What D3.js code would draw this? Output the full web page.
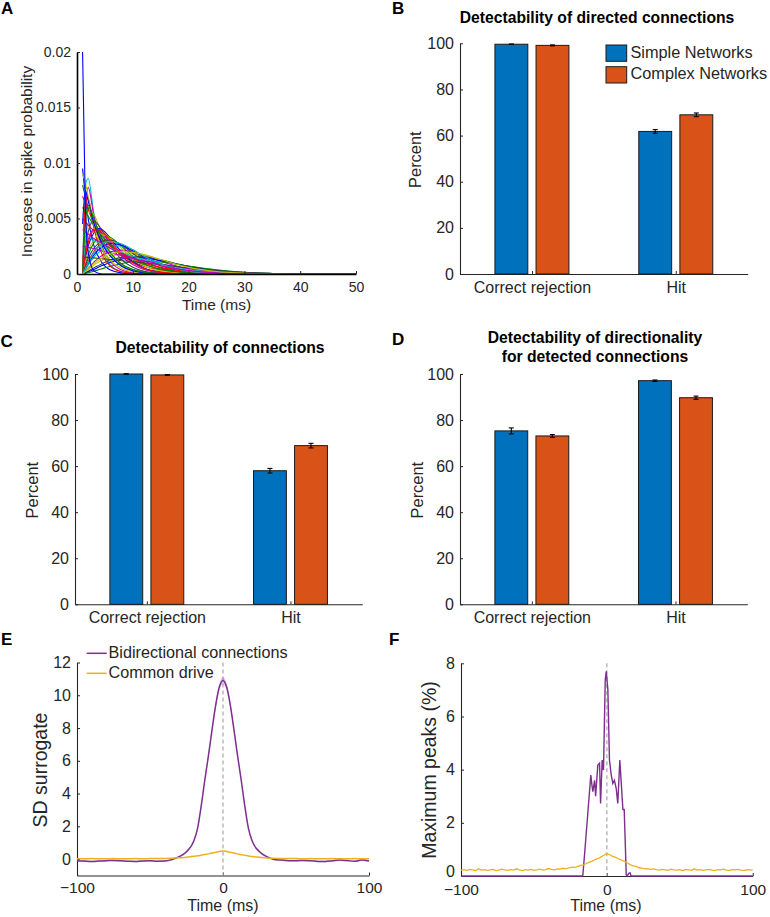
<!DOCTYPE html>
<html><head><meta charset="utf-8">
<script src="https://cdn.jsdelivr.net/npm/d3@7"></script>
<style>
body{margin:0;background:#fff}
svg text{font-family:"Liberation Sans",Arial,Helvetica,sans-serif}
</style>
</head><body>
<svg id="fig" width="770" height="917"></svg>
<script>
// ---------------- DATA ----------------
// Panel A: kernels (values in units of 1e-3), sampled at aTime (ms)
const aTime = [1, 1.5, 2, 3, 4, 5, 6, 8, 10, 12, 15, 20, 25, 30, 35, 40, 50];
const aUnit = 1e-3;
const aCurves = [
  [9.5, 7, 5, 2.6, 1.4, 0.7, 0.35, 0.1, 0.02, 0, 0, 0, 0, 0, 0, 0, 0],
  [8, 7, 6, 4.4, 3.2, 2.3, 1.6, 0.8, 0.4, 0.2, 0.05, 0, 0, 0, 0, 0, 0],
  [7, 6.4, 5.8, 4.8, 3.9, 3.2, 2.6, 1.7, 1.1, 0.7, 0.35, 0.1, 0.02, 0, 0, 0, 0],
  [0, 8, 8.6, 5.5, 3, 1.6, 0.8, 0.2, 0.05, 0, 0, 0, 0, 0, 0, 0, 0],
  [0, 5.5, 7.8, 5.3, 3.2, 1.9, 1.1, 0.35, 0.1, 0.03, 0, 0, 0, 0, 0, 0, 0],
  [0, 3.5, 5.6, 5.4, 4.2, 3, 2, 0.85, 0.35, 0.13, 0.03, 0, 0, 0, 0, 0, 0],
  [0, 2.2, 3.8, 4.8, 4.3, 3.5, 2.6, 1.3, 0.6, 0.25, 0.07, 0.01, 0, 0, 0, 0, 0],
  [0, 1.4, 2.5, 3.7, 4.1, 3.8, 3.2, 2, 1.1, 0.55, 0.2, 0.03, 0, 0, 0, 0, 0],
  [0, 0.9, 1.7, 2.8, 3.3, 3.5, 3.3, 2.5, 1.6, 0.95, 0.4, 0.08, 0.01, 0, 0, 0, 0],
  [0, 0.6, 1.1, 2, 2.6, 2.9, 3, 2.6, 2, 1.4, 0.75, 0.2, 0.04, 0, 0, 0, 0],
  [0, 0.4, 0.8, 1.5, 2, 2.4, 2.55, 2.5, 1.95, 1.6, 0.95, 0.3, 0.08, 0.02, 0, 0, 0],
  [0, 0.3, 0.55, 1.05, 1.5, 1.8, 2, 2.15, 1.95, 1.7, 1.15, 0.45, 0.15, 0.04, 0.01, 0, 0],
  [0, 0.2, 0.4, 0.8, 1.1, 1.35, 1.55, 1.75, 1.8, 1.7, 1.3, 0.65, 0.25, 0.08, 0.02, 0, 0],
  [0, 0.12, 0.25, 0.55, 0.8, 1.05, 1.25, 1.5, 1.6, 1.55, 1.25, 0.7, 0.32, 0.12, 0.04, 0.01, 0],
  [0, 0.1, 0.2, 0.4, 0.65, 0.85, 1.05, 1.35, 1.5, 1.45, 1.2, 0.68, 0.33, 0.13, 0.05, 0.01, 0],
  [0, 0.06, 0.12, 0.25, 0.4, 0.55, 0.7, 0.95, 1.1, 1.15, 1.08, 0.72, 0.38, 0.15, 0.05, 0.01, 0],
  [0, 6.5, 6.8, 4.2, 2.4, 1.3, 0.7, 0.2, 0.05, 0, 0, 0, 0, 0, 0, 0, 0],
  [0, 2.8, 4.6, 4.6, 3.5, 2.5, 1.7, 0.7, 0.28, 0.1, 0.02, 0, 0, 0, 0, 0, 0],
  [0, 1.8, 3.1, 4, 3.9, 3.4, 2.8, 1.6, 0.85, 0.4, 0.12, 0.02, 0, 0, 0, 0, 0],
  [0, 1.1, 2, 3.1, 3.5, 3.5, 3.2, 2.3, 1.4, 0.75, 0.28, 0.04, 0, 0, 0, 0, 0],
  [0, 0.75, 1.4, 2.3, 2.8, 3.05, 3.05, 2.6, 1.85, 1.2, 0.55, 0.12, 0.02, 0, 0, 0, 0],
  [0, 0.5, 0.95, 1.7, 2.25, 2.6, 2.75, 2.6, 2.1, 1.55, 0.9, 0.28, 0.07, 0.01, 0, 0, 0],
  [6, 5.6, 5.2, 4.4, 3.7, 3.1, 2.6, 1.8, 1.25, 0.85, 0.45, 0.14, 0.04, 0.01, 0, 0, 0],
  [5, 4.7, 4.4, 3.9, 3.4, 2.9, 2.5, 1.9, 1.4, 1, 0.6, 0.22, 0.07, 0.02, 0, 0, 0],
  [3.5, 3.4, 3.3, 3, 2.8, 2.6, 2.35, 1.95, 1.6, 1.3, 0.9, 0.42, 0.18, 0.07, 0.02, 0, 0],
  [2.5, 2.45, 2.4, 2.3, 2.15, 2, 1.9, 1.65, 1.4, 1.2, 0.9, 0.5, 0.25, 0.1, 0.03, 0.01, 0],
  [9, 8.2, 7, 4.5, 2.9, 1.8, 1.2, 0.5, 0.2, 0.08, 0.02, 0, 0, 0, 0, 0, 0],
  [1.5, 1.5, 1.5, 1.45, 1.4, 1.35, 1.3, 1.2, 1.1, 1, 0.85, 0.55, 0.3, 0.12, 0.04, 0.01, 0],
  [4.5, 7.5, 6.6, 4.6, 3.3, 2.3, 1.6, 0.7, 0.3, 0.1, 0.02, 0, 0, 0, 0, 0, 0],
  [0, 4.5, 6.2, 5.0, 3.7, 2.7, 1.9, 0.9, 0.4, 0.16, 0.04, 0, 0, 0, 0, 0, 0],
  [0, 1.6, 2.8, 3.9, 4.0, 3.6, 3.0, 1.8, 1.0, 0.5, 0.16, 0.02, 0, 0, 0, 0, 0],
  [0, 0.5, 1.0, 1.9, 2.5, 2.85, 2.95, 2.7, 2.2, 1.6, 0.9, 0.25, 0.05, 0.01, 0, 0, 0],
  [4, 3.8, 3.6, 3.2, 2.9, 2.6, 2.3, 1.85, 1.45, 1.15, 0.75, 0.3, 0.1, 0.03, 0.01, 0, 0],
  [0, 0.25, 0.5, 0.95, 1.3, 1.6, 1.8, 2.0, 1.95, 1.75, 1.3, 0.6, 0.22, 0.07, 0.02, 0, 0],
  [20, 6, 2, 0.3, 0.05, 0, 0, 0, 0, 0, 0, 0, 0, 0, 0, 0, 0]
];
const aXTicks = [0, 10, 20, 30, 40, 50];
const aYTicks = [0, 0.005, 0.01, 0.015, 0.02];
const aYTickLabels = ["0", "0.005", "0.01", "0.015", "0.02"];

// Panels B, C, D: grouped bars
const barCategories = ["Correct rejection", "Hit"];
const seriesNames = ["Simple Networks", "Complex Networks"];
const bSimple = [99.6, 61.8], bSimpleErr = [0.1, 0.8];
const bComplex = [99.1, 69.0], bComplexErr = [0.2, 0.8];
const cSimple = [100, 58.0], cSimpleErr = [0.05, 1.0];
const cComplex = [99.6, 68.9], cComplexErr = [0.1, 1.0];
const dSimple = [75.3, 97.1], dSimpleErr = [1.3, 0.3];
const dComplex = [73.1, 89.7], dComplexErr = [0.6, 0.7];
const percentTicks = [0, 20, 40, 60, 80, 100];

// Panel E: SD surrogate vs time
const eTime = [-100,-95,-90,-85,-80,-75,-70,-65,-60,-55,-50,-45,-40,-35,-30,-25,-20,
  -17.5,-15,-12.5,-10,-7.5,-5,-2.5,0,2.5,5,7.5,10,12.5,15,17.5,
  20,25,30,35,40,45,50,55,60,65,70,75,80,85,90,95,100];
const eBidirectional = [-0.10,-0.12,-0.14,-0.12,-0.10,-0.08,-0.10,-0.13,-0.14,-0.11,-0.10,-0.13,-0.12,-0.03,0.15,0.45,1.1,
  1.85,3.2,4.8,6.3,7.9,9.4,10.5,10.9,10.5,9.4,7.9,6.3,4.8,3.2,1.85,
  1.1,0.45,0.15,-0.02,-0.06,-0.10,-0.10,-0.08,-0.10,-0.14,-0.15,-0.10,-0.06,-0.09,-0.13,-0.06,-0.12];
const eBidirectionalSem = [0.05,0.05,0.05,0.05,0.05,0.05,0.05,0.05,0.05,0.05,0.05,0.05,0.05,0.05,0.05,0.05,0.06,
  0.07,0.08,0.1,0.12,0.15,0.18,0.2,0.22,0.2,0.18,0.15,0.12,0.1,0.08,0.07,
  0.06,0.05,0.05,0.05,0.05,0.05,0.05,0.05,0.05,0.05,0.05,0.05,0.05,0.05,0.05,0.05,0.05];
const eCommonDrive = [0.02,0.02,0.03,0.02,0.02,0.03,0.02,0.02,0.03,0.02,0.03,0.03,0.04,0.06,0.08,0.12,0.17,
  0.2,0.24,0.28,0.32,0.37,0.42,0.47,0.5,0.47,0.42,0.37,0.32,0.27,0.23,0.19,
  0.16,0.11,0.07,0.05,0.04,0.03,0.03,0.02,0.03,0.02,0.02,0.03,0.02,0.02,0.03,0.02,0.02];
const eYTicks = [0, 2, 4, 6, 8, 10, 12];
const tXTicks = [-100, 0, 100];
const lineNames = ["Bidirectional connections", "Common drive"];

// Panel F: maximum peaks (%)
const fBidirTime = [-100,-16.5,-15,-13,-11,-10.2,-9.6,-8.4,-7.7,-6.2,-5,-4.3,-3.2,-2.3,-1.1,-0.4,0.7,1.8,3,4.1,5.2,6.4,7.5,8.9,10.1,11,11.9,13.3,14,15,16,16.6,100];
const fBidir = [0,0,1.0,2.4,3.8,3.4,3.17,3.6,3.0,4.17,4.24,2.73,4.36,3.98,7.37,7.7,7.0,4.36,3.8,3.48,3.6,3.3,2.73,4.36,3.3,2.5,2.5,0.05,0,0.1,0.12,0,0];
const fCommonTime = [-100,-98,-96,-94,-92,-90,-88,-86,-84,-82,-80,-78,-76,-74,-72,-70,-68,-66,-64,-62,-60,-58,-56,-54,-52,-50,-48,-46,-44,-42,-40,-38,-36,-34,
  -32,-30,-28,-26,-24,-22,-20,-18,-16,-14,-12,-10,-8,-6,-4,-2,0,2,4,6,8,10,12,14,16,18,20,22,24,26,28,30,32,
  34,36,38,40,42,44,46,48,50,52,54,56,58,60,62,64,66,68,70,72,74,76,78,80,82,84,86,88,90,92,94,96,98,100];
const fCommon = [0.22,0.24,0.21,0.25,0.23,0.20,0.27,0.22,0.24,0.21,
  0.23,0.25,0.20,0.22,0.26,0.23,0.21,0.24,0.22,0.27,
  0.23,0.20,0.24,0.22,0.25,0.21,0.23,0.26,0.22,0.24,
  0.28,0.25,0.23,0.27,
  0.26,0.29,0.27,0.31,0.33,0.32,0.36,0.40,0.42,0.47,0.52,0.56,0.62,0.66,0.72,0.78,
  0.85,
  0.80,0.74,0.70,0.65,0.60,0.55,0.50,0.43,0.38,0.36,0.31,0.30,0.27,0.28,0.25,0.27,
  0.24,0.22,0.25,0.23,0.21,0.26,0.23,0.22,0.24,0.20,
  0.25,0.23,0.21,0.27,0.22,0.24,0.21,0.23,0.25,0.22,
  0.20,0.24,0.23,0.26,0.22,0.21,0.24,0.23,0.25,0.22,
  0.20,0.24,0.23,0.22];
const fYTicks = [0, 2, 4, 6, 8];

// ---------------- STYLE ----------------
const FONT = '"Liberation Sans", Arial, Helvetica, sans-serif';
const INK = "#262626";
const BAR_COLORS = ["#0072BD", "#D95319"];
const PURPLE = "#7E2F8E", YELLOW = "#EDB120";
const KERNEL_COLORS = ["#0000ff", "#008000", "#ff0000", "#00bfbf", "#bf00bf", "#bfbf00", "#404040"];

const svg = d3.select("#fig");

function styleAxis(g, fs) {
  g.attr("font-family", FONT).attr("font-size", fs);
  g.selectAll(".domain").attr("stroke", INK).attr("stroke-width", 1.1);
  g.selectAll(".tick line").attr("stroke", INK).attr("stroke-width", 1);
  g.selectAll(".tick text").attr("fill", INK);
}
function label(txt, x, y, fs, opts = {}) {
  const t = svg.append("text").attr("x", x).attr("y", y).attr("font-size", fs)
    .attr("fill", opts.fill || INK).attr("text-anchor", opts.anchor || "middle")
    .attr("font-family", FONT).text(txt);
  if (opts.bold) t.attr("font-weight", "bold");
  if (opts.rotate) t.attr("transform", `rotate(-90,${x},${y})`).attr("dominant-baseline", "middle");
  if (opts.mid) t.attr("dominant-baseline", "middle");
  return t;
}

// ---------------- PANEL LETTERS ----------------
[["A", 1, 13.5], ["B", 392, 13.5], ["C", 0.5, 346.5], ["D", 392, 344.5], ["E", 1, 644.5], ["F", 389, 644.5]]
  .forEach(([s, x, y]) => label(s, x, y, 17, {anchor: "start", bold: true, fill: "#000"}));

// ---------------- PANEL A ----------------
(function () {
  const x = d3.scaleLinear().domain([0, 50]).range([77, 356]);
  const y = d3.scaleLinear().domain([0, 0.02]).range([274, 52]);
  const line = d3.line().x((d, i) => x(aTime[i])).y(d => y(d * aUnit)).curve(d3.curveMonotoneX);
  const g = svg.append("g");
  aCurves.forEach((c, k) => {
    g.append("path").attr("d", line(c)).attr("fill", "none")
      .attr("stroke", k === aCurves.length - 1 ? "#0000ff" : KERNEL_COLORS[k % KERNEL_COLORS.length])
      .attr("stroke-width", 1.1);
  });
  const ax = svg.append("g").attr("transform", "translate(0,274)")
    .call(d3.axisBottom(x).tickValues(aXTicks).tickSize(-3).tickSizeOuter(0).tickPadding(8));
  styleAxis(ax, 14);
  ax.selectAll(".domain").attr("stroke", "#000").attr("stroke-width", 1.6);
  const ay = svg.append("g").attr("transform", "translate(77,0)")
    .call(d3.axisLeft(y).tickValues(aYTicks).tickFormat((d, i) => aYTickLabels[i]).tickSize(-3).tickSizeOuter(0).tickPadding(6));
  styleAxis(ay, 14);
  ay.selectAll(".domain").attr("stroke", "#000").attr("stroke-width", 1.6);
  label("Time (ms)", 216.5, 309.5, 15.5);
  label("Increase in spike probability", 27.5, 161.5, 15.5, {rotate: true});
})();

// ---------------- BAR PANELS ----------------
function barPanel(cfg) {
  const x = d3.scaleLinear().domain([0.5, 2.5]).range([cfg.left, cfg.right]);
  const y = d3.scaleLinear().domain([0, 100]).range([cfg.bottom, cfg.top]);
  const groupOffset = 0.1429, barW = 0.2286;
  const ax = svg.append("g").attr("transform", `translate(0,${cfg.bottom})`)
    .call(d3.axisBottom(x).tickValues([1, 2]).tickFormat((d, i) => barCategories[i]).tickSize(-3).tickSizeOuter(0).tickPadding(7.5));
  styleAxis(ax, 16);
  const ay = svg.append("g").attr("transform", `translate(${cfg.left},0)`)
    .call(d3.axisLeft(y).tickValues(percentTicks).tickSize(-3).tickSizeOuter(0).tickPadding(6));
  styleAxis(ay, 16);
  const series = [
    {vals: cfg.s1, err: cfg.e1, color: BAR_COLORS[0], off: -groupOffset},
    {vals: cfg.s2, err: cfg.e2, color: BAR_COLORS[1], off: groupOffset}
  ];
  const g = svg.append("g");
  series.forEach(s => {
    s.vals.forEach((v, i) => {
      const cx = i + 1 + s.off;
      g.append("rect").attr("x", x(cx - barW / 2)).attr("width", x(cx + barW / 2) - x(cx - barW / 2))
        .attr("y", y(v)).attr("height", y(0) - y(v))
        .attr("fill", s.color).attr("stroke", "#1a1a1a").attr("stroke-width", 1);
      const e = s.err[i];
      const px = x(cx);
      g.append("line").attr("x1", px).attr("x2", px).attr("y1", y(v - e)).attr("y2", y(v + e)).attr("stroke", "#000").attr("stroke-width", 1.1);
      [v - e, v + e].forEach(w => g.append("line").attr("x1", px - 2.5).attr("x2", px + 2.5).attr("y1", y(w)).attr("y2", y(w)).attr("stroke", "#000").attr("stroke-width", 1.1));
    });
  });
  label("Percent", cfg.ylabX, (cfg.top + cfg.bottom) / 2 + 1, 16.4, {rotate: true});
  return {x, y};
}

barPanel({left: 460, right: 747.7, top: 43.3, bottom: 274, s1: bSimple, e1: bSimpleErr, s2: bComplex, e2: bComplexErr, ylabX: 417});
label("Detectability of directed connections", 597, 22.5, 15.7, {bold: true, fill: "#000"});
// legend B
seriesNames.forEach((n, i) => {
  const yy = 45 + i * 21.7;
  svg.append("rect").attr("x", 606).attr("y", yy).attr("width", 20.7).attr("height", 16.3)
    .attr("fill", BAR_COLORS[i]).attr("stroke", "#1a1a1a").attr("stroke-width", 1);
  label(n, 630.5, yy + 8.5, 16.3, {anchor: "start", mid: true});
});

barPanel({left: 75, right: 362.3, top: 374, bottom: 604.3, s1: cSimple, e1: cSimpleErr, s2: cComplex, e2: cComplexErr, ylabX: 33.5});
label("Detectability of connections", 220, 352.5, 15.7, {bold: true, fill: "#000"});

barPanel({left: 460, right: 747.3, top: 374, bottom: 604.3, s1: dSimple, e1: dSimpleErr, s2: dComplex, e2: dComplexErr, ylabX: 418.5});
label("Detectability of directionality", 595, 342.7, 15.7, {bold: true, fill: "#000"});
label("for detected connections", 595, 361.7, 15.7, {bold: true, fill: "#000"});

// ---------------- PANEL E ----------------
(function () {
  const x = d3.scaleLinear().domain([-100, 100]).range([77, 369]);
  const y = d3.scaleLinear().domain([-1, 12]).range([875.5, 662.5]);
  const ax = svg.append("g").attr("transform", `translate(0,${y(-1)})`)
    .call(d3.axisBottom(x).tickValues(tXTicks).tickSize(-3).tickSizeOuter(0).tickPadding(6));
  styleAxis(ax, 15.5);
  const ay = svg.append("g").attr("transform", "translate(77,0)")
    .call(d3.axisLeft(y).tickValues(eYTicks).tickSize(-3).tickSizeOuter(0).tickPadding(6));
  styleAxis(ay, 16);
  svg.append("line").attr("x1", x(0)).attr("x2", x(0)).attr("y1", y(12)).attr("y2", y(-1))
    .attr("stroke", "#b5b5b5").attr("stroke-width", 1.4).attr("stroke-dasharray", "4,3");
  const area = d3.area().x((d, i) => x(eTime[i])).y0((d, i) => y(d - eBidirectionalSem[i])).y1((d, i) => y(d + eBidirectionalSem[i])).curve(d3.curveMonotoneX);
  svg.append("path").attr("d", area(eBidirectional)).attr("fill", PURPLE).attr("opacity", 0.25);
  const line = d3.line().x((d, i) => x(eTime[i])).y(d => y(d)).curve(d3.curveMonotoneX);
  svg.append("path").attr("d", line(eBidirectional)).attr("fill", "none").attr("stroke", PURPLE).attr("stroke-width", 1.5);
  svg.append("path").attr("d", line(eCommonDrive)).attr("fill", "none").attr("stroke", YELLOW).attr("stroke-width", 1.5);
  [PURPLE, YELLOW].forEach((c, i) => {
    const yy = 653.3 + i * 20;
    svg.append("line").attr("x1", 86.7).attr("x2", 106.7).attr("y1", yy).attr("y2", yy).attr("stroke", c).attr("stroke-width", 1.5);
    label(lineNames[i], 108.5, yy + 0.5, 16.2, {anchor: "start", mid: true});
  });
  label("Time (ms)", 223, 911, 16);
  label("SD surrogate", 41.7, 770, 19.5, {rotate: true});
})();

// ---------------- PANEL F ----------------
(function () {
  const x = d3.scaleLinear().domain([-100, 100]).range([461, 752.7]);
  const y = d3.scaleLinear().domain([0, 8]).range([876, 663.3]);
  const ax = svg.append("g").attr("transform", `translate(0,${y(0)})`)
    .call(d3.axisBottom(x).tickValues(tXTicks).tickSize(-3).tickSizeOuter(0).tickPadding(8));
  styleAxis(ax, 15.5);
  const ay = svg.append("g").attr("transform", "translate(461,0)")
    .call(d3.axisLeft(y).tickValues(fYTicks).tickSize(-3).tickSizeOuter(0).tickPadding(6));
  styleAxis(ay, 16);
  ay.selectAll(".tick text").filter(d => d === 0).attr("dy", "0.05em");
  svg.append("line").attr("x1", x(0)).attr("x2", x(0)).attr("y1", y(8)).attr("y2", y(0))
    .attr("stroke", "#b5b5b5").attr("stroke-width", 1.4).attr("stroke-dasharray", "4,3");
  const lineP = d3.line().x((d, i) => x(fBidirTime[i])).y(d => y(d));
  const lineO = d3.line().x((d, i) => x(fCommonTime[i])).y(d => y(d));
  svg.append("path").attr("d", lineP(fBidir)).attr("fill", "none").attr("stroke", PURPLE).attr("stroke-width", 1.4);
  svg.append("path").attr("d", lineO(fCommon)).attr("fill", "none").attr("stroke", YELLOW).attr("stroke-width", 1.3);
  label("Time (ms)", 606, 911, 16);
  label("Maximum peaks (%)", 431, 770, 19.5, {rotate: true});
})();
</script>
</body></html>
